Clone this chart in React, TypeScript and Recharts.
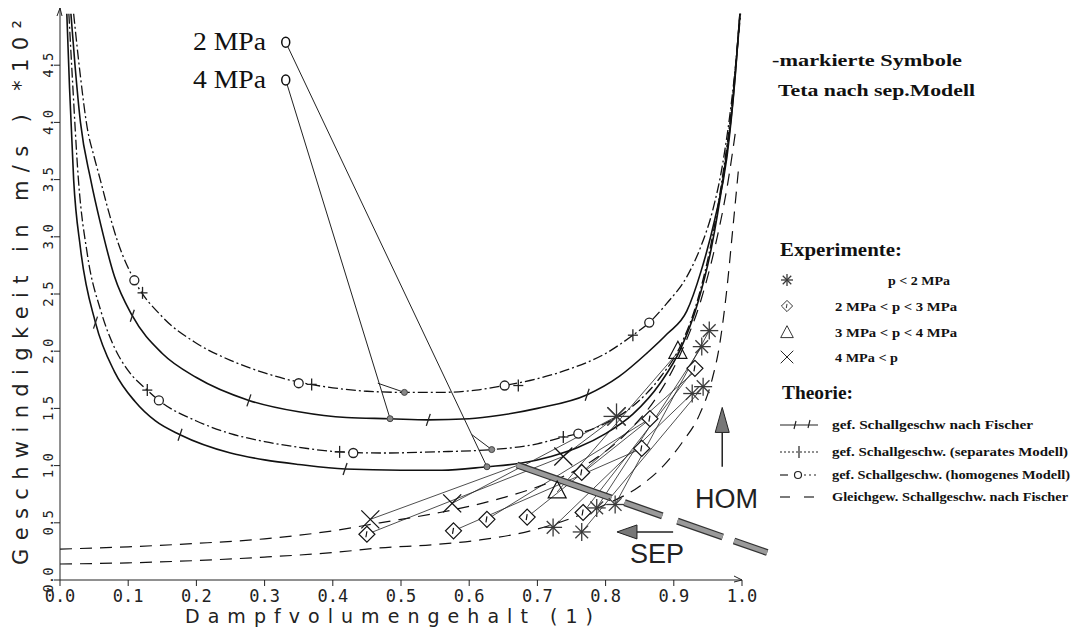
import React from "react";
import {
  ComposedChart,
  Line,
  Scatter,
  XAxis,
  YAxis,
  ReferenceLine,
  ReferenceDot,
} from "recharts";

const xTicks = [0, 0.1, 0.2, 0.3, 0.4, 0.5, 0.6, 0.7, 0.8, 0.9, 1.0];
const yTicks = [0, 0.5, 1.0, 1.5, 2.0, 2.5, 3.0, 3.5, 4.0, 4.5];

// theory curves (x = Dampfvolumengehalt, y = Geschwindigkeit *100 m/s)
const homHigh: [number, number][] = [
  [0.02, 4.95], [0.03, 4.4], [0.04, 3.95], [0.05, 3.7], [0.059, 3.5], [0.07, 3.25],
  [0.085, 2.95], [0.109, 2.62], [0.15, 2.3], [0.2, 2.07], [0.25, 1.92], [0.3, 1.81],
  [0.35, 1.73], [0.4, 1.68], [0.45, 1.65], [0.505, 1.64], [0.56, 1.64], [0.61, 1.66],
  [0.652, 1.7], [0.7, 1.76], [0.75, 1.85], [0.8, 1.98], [0.84, 2.14], [0.864, 2.25],
  [0.89, 2.42], [0.919, 2.65], [0.94, 2.92], [0.957, 3.23], [0.972, 3.65], [0.985, 4.2],
  [0.994, 4.7], [0.998, 4.95],
];
const fischerHigh: [number, number][] = [
  [0.016, 4.95], [0.022, 4.5], [0.03, 4.0], [0.045, 3.5], [0.06, 3.1], [0.08, 2.65],
  [0.106, 2.31], [0.15, 1.98], [0.2, 1.77], [0.277, 1.57], [0.35, 1.47], [0.42, 1.42],
  [0.484, 1.41], [0.54, 1.4], [0.6, 1.41], [0.645, 1.44], [0.7, 1.5], [0.773, 1.62],
  [0.82, 1.78], [0.86, 1.98], [0.89, 2.15], [0.919, 2.35], [0.94, 2.7], [0.96, 3.15],
  [0.978, 3.7], [0.99, 4.4], [0.997, 4.95],
];
const homLow: [number, number][] = [
  [0.013, 4.95], [0.018, 4.4], [0.027, 3.5], [0.04, 2.85], [0.06, 2.35], [0.08, 2.03],
  [0.1, 1.83], [0.128, 1.66], [0.145, 1.57], [0.2, 1.39], [0.25, 1.28], [0.3, 1.21],
  [0.35, 1.16], [0.41, 1.12], [0.47, 1.11], [0.55, 1.12], [0.633, 1.14], [0.7, 1.19],
  [0.738, 1.25], [0.76, 1.28], [0.8, 1.37], [0.84, 1.52], [0.88, 1.77], [0.91, 2.05],
  [0.935, 2.45], [0.955, 2.95], [0.972, 3.55], [0.986, 4.2], [0.997, 4.95],
];
const fischerLow: [number, number][] = [
  [0.01, 4.95], [0.014, 4.3], [0.02, 3.5], [0.03, 2.9], [0.052, 2.25], [0.08, 1.82],
  [0.11, 1.56], [0.14, 1.39], [0.176, 1.27], [0.25, 1.11], [0.3, 1.05], [0.35, 1.01],
  [0.418, 0.97], [0.5, 0.96], [0.56, 0.96], [0.626, 0.99], [0.675, 1.02], [0.72, 1.08],
  [0.76, 1.16], [0.8, 1.28], [0.84, 1.45], [0.88, 1.72], [0.91, 2.02], [0.935, 2.42],
  [0.955, 2.9], [0.972, 3.5], [0.986, 4.15], [0.997, 4.95],
];
const eqUpper: [number, number][] = [
  [0, 0.27], [0.1, 0.29], [0.2, 0.32], [0.3, 0.36], [0.4, 0.43], [0.469, 0.5],
  [0.557, 0.59], [0.65, 0.72], [0.72, 0.86], [0.78, 1.04], [0.83, 1.28], [0.875, 1.6],
  [0.91, 1.98], [0.94, 2.45], [0.96, 2.9], [0.98, 3.5], [0.99, 3.9],
];
const eqLower: [number, number][] = [
  [0, 0.14], [0.1, 0.15], [0.2, 0.17], [0.3, 0.2], [0.4, 0.24], [0.469, 0.28],
  [0.55, 0.31], [0.616, 0.35], [0.69, 0.43], [0.75, 0.54], [0.8, 0.66], [0.85, 0.82],
  [0.885, 1.0], [0.912, 1.2], [0.938, 1.45], [0.956, 1.75], [0.967, 2.05], [0.977, 2.5],
  [0.987, 3.1], [0.995, 3.6],
];

// marks sitting on the theory curves
const homCircles: [number, number][] = [
  [0.109, 2.62], [0.35, 1.72], [0.652, 1.7], [0.864, 2.25], [0.145, 1.57], [0.43, 1.11], [0.76, 1.28],
];
const sepCrosses: [number, number][] = [
  [0.121, 2.51], [0.369, 1.71], [0.672, 1.7], [0.84, 2.14], [0.128, 1.66], [0.41, 1.12], [0.738, 1.25],
];
const fischerTicks: [number, number][] = [
  [0.106, 2.31], [0.277, 1.57], [0.54, 1.4], [0.773, 1.62], [0.052, 2.25], [0.176, 1.27], [0.418, 0.97],
];
const tetaDots: [number, number][] = [[0.505, 1.64], [0.484, 1.41], [0.633, 1.14], [0.626, 0.99]];

// experiments
const starPts: [number, number][] = [
  [0.723, 0.46], [0.765, 0.42], [0.787, 0.63], [0.814, 0.66], [0.927, 1.63], [0.943, 1.69],
  [0.941, 2.04], [0.952, 2.18],
];
const bigStarPts: [number, number][] = [[0.816, 1.43]];
const diamondPts: [number, number][] = [
  [0.45, 0.4], [0.577, 0.43], [0.626, 0.53], [0.685, 0.55], [0.767, 0.59], [0.765, 0.94],
  [0.853, 1.15], [0.865, 1.41], [0.931, 1.85],
];
const trianglePts: [number, number][] = [[0.729, 0.77], [0.906, 1.99]];
const crossPts: [number, number][] = [[0.455, 0.53], [0.575, 0.67], [0.738, 1.08], [0.816, 1.43]];

// thin lines joining experiment and theory points
const links: [number, number, number, number][] = [
  [0.455, 0.53, 0.67, 1.0], [0.45, 0.4, 0.738, 1.08], [0.575, 0.67, 0.816, 1.43],
  [0.577, 0.43, 0.853, 1.15], [0.626, 0.53, 0.865, 1.41], [0.685, 0.55, 0.87, 1.43],
  [0.723, 0.46, 0.927, 1.63], [0.765, 0.42, 0.943, 1.69], [0.729, 0.77, 0.906, 1.99],
  [0.767, 0.59, 0.931, 1.85], [0.787, 0.63, 0.941, 2.04], [0.814, 0.66, 0.952, 2.18],
  [0.738, 1.08, 0.816, 1.43], [0.765, 0.94, 0.934, 1.84],
];
// "2 MPa o" / "4 MPa o" leader lines
const pressureLines: [number, number, number, number][] = [
  [0.331, 4.7, 0.626, 0.99], [0.604, 1.27, 0.633, 1.14],
  [0.331, 4.37, 0.484, 1.41], [0.466, 1.72, 0.505, 1.64],
];
const pressureOrigins: [number, number][] = [[0.331, 4.7], [0.331, 4.37]];
const sepBand: [number, number][] = [[0.67, 1.005], [1.037, 0.24]];
const homArrow: [number, number][] = [[0.971, 0.99], [0.971, 1.29]];
const sepArrow: [number, number][] = [[0.899, 0.42], [0.846, 0.42]];

const pts = (a: [number, number][]) => a.map(([x, y]) => ({ x, y }));

const Asterisk = (r: number) => (p: any) => (
  <g stroke="#3a3a3a" strokeWidth={1.3}>
    {[0, 45, 90, 135].map((a) => {
      const dx = r * Math.cos((a * Math.PI) / 180);
      const dy = r * Math.sin((a * Math.PI) / 180);
      return <line key={a} x1={p.cx - dx} y1={p.cy - dy} x2={p.cx + dx} y2={p.cy + dy} />;
    })}
  </g>
);
const Diamond = (p: any) => (
  <g stroke="#111" strokeWidth={1.2} fill="#fff">
    <polygon points={`${p.cx},${p.cy - 8} ${p.cx + 8},${p.cy} ${p.cx},${p.cy + 8} ${p.cx - 8},${p.cy}`} />
    <line x1={p.cx} y1={p.cy - 3} x2={p.cx - 1} y2={p.cy + 3} />
  </g>
);
const Triangle = (p: any) => (
  <polygon
    points={`${p.cx},${p.cy - 11} ${p.cx + 9},${p.cy + 6} ${p.cx - 9},${p.cy + 6}`}
    fill="none"
    stroke="#111"
    strokeWidth={1.2}
  />
);
const XMark = (p: any) => (
  <g stroke="#111" strokeWidth={1.3}>
    <line x1={p.cx - 9} y1={p.cy - 9} x2={p.cx + 9} y2={p.cy + 9} />
    <line x1={p.cx - 9} y1={p.cy + 9} x2={p.cx + 9} y2={p.cy - 9} />
  </g>
);
const Ring = (p: any) => <circle cx={p.cx} cy={p.cy} r={4.5} fill="#fff" stroke="#222" strokeWidth={1.3} />;
const Plus = (p: any) => (
  <g stroke="#222" strokeWidth={1.3}>
    <line x1={p.cx} y1={p.cy - 6} x2={p.cx} y2={p.cy + 6} />
    <line x1={p.cx - 5} y1={p.cy} x2={p.cx + 5} y2={p.cy} />
  </g>
);
const Tick = (p: any) => (
  <line x1={p.cx + 2} y1={p.cy - 6} x2={p.cx - 2} y2={p.cy + 6} stroke="#222" strokeWidth={1.3} />
);
const GreyDot = (p: any) => <circle cx={p.cx} cy={p.cy} r={3} fill="#888" stroke="#444" />;

const XTick = (p: any) => (
  <text x={p.x} y={594} textAnchor="middle" fontFamily="DejaVu Sans Mono" fontSize={17} fill="#222">
    {p.payload.value.toFixed(1)}
  </text>
);
const YTick = (p: any) => (
  <text
    x={45}
    y={p.y}
    transform={`rotate(-90 45 ${p.y})`}
    textAnchor="middle"
    fontFamily="DejaVu Sans Mono"
    fontSize={14}
    fill="#222"
  >
    {p.payload.value.toFixed(1)}
  </text>
);

const serif = "Liberation Serif";

// legend text: [text, x, baseline, font size, width]
const legendTexts: [string, number, number, number, number][] = [
  ["-markierte Symbole", 764, 58, 17, 190],
  ["Teta nach sep.Modell", 770, 88, 17, 197],
  ["Experimente:", 772, 248, 19, 122],
  ["p < 2 MPa", 880, 277, 13, 62],
  ["2 MPa < p < 3 MPa", 827, 303, 13, 122],
  ["3 MPa < p < 4 MPa", 827, 329, 13, 122],
  ["4 MPa < p", 827, 354, 13, 63],
  ["Theorie:", 774, 391, 19, 71],
  ["gef. Schallgeschw nach Fischer", 824, 421, 13.5, 201],
  ["gef. Schallgeschw. (separates Modell)", 824, 448, 13.5, 236],
  ["gef. Schallgeschw. (homogenes Modell)", 824, 471, 13.5, 238],
  ["Gleichgew. Schallgeschw. nach Fischer", 824, 493, 13.5, 236],
];

export default function App() {
  const curveLine = (d: [number, number][], dash?: string, w = 1.5) => (
    <Line
      data={pts(d)}
      dataKey="y"
      type="monotone"
      stroke="#111"
      strokeWidth={w}
      strokeDasharray={dash}
      dot={false}
      isAnimationActive={false}
    />
  );
  const seg = (s: [number, number][]) => s.map(([x, y]) => ({ x, y }));
  return (
    <div style={{ position: "relative", width: 1074, height: 626 }}>
      <ComposedChart width={1074} height={626} margin={{ top: 0, right: 340, bottom: 0, left: 0 }}>
        <XAxis
          type="number"
          dataKey="x"
          domain={[0, 1]}
          allowDataOverflow
          ticks={xTicks}
          tick={XTick}
          height={54}
          stroke="#222"
          label={{
            content: () => (
              <text x={177} y={615} fontFamily="DejaVu Sans" fontSize={19} fill="#222" textLength={408} lengthAdjust="spacing">
                Dampfvolumengehalt (1)
              </text>
            ),
          }}
        />
        <YAxis
          type="number"
          dataKey="y"
          domain={[0, 5]}
          allowDataOverflow
          ticks={yTicks}
          tick={YTick}
          width={52}
          stroke="#222"
          label={{
            content: () => (
              <text
                x={0}
                y={0}
                transform="translate(20 557) rotate(-90)"
                fontFamily="DejaVu Sans"
                fontSize={21}
                fill="#222"
                textLength={545}
                lengthAdjust="spacing"
              >
                Geschwindigkeit in m/s ) *10²
              </text>
            ),
          }}
        />

        {curveLine(eqUpper, "12 8", 1.2)}
        {curveLine(eqLower, "12 8", 1.2)}
        {curveLine(homHigh, "10 3 2 3", 1.3)}
        {curveLine(homLow, "10 3 2 3", 1.3)}
        {curveLine(fischerHigh, undefined, 1.6)}
        {curveLine(fischerLow, undefined, 1.6)}

        {links.map(([x1, y1, x2, y2], i) => (
          <ReferenceLine key={"l" + i} segment={[{ x: x1, y: y1 }, { x: x2, y: y2 }]} stroke="#222" strokeWidth={0.8} />
        ))}
        {pressureLines.map(([x1, y1, x2, y2], i) => (
          <ReferenceLine key={"p" + i} segment={[{ x: x1, y: y1 }, { x: x2, y: y2 }]} stroke="#222" strokeWidth={1} />
        ))}
        <ReferenceLine segment={seg(sepBand)} ifOverflow="visible" stroke="#333" strokeWidth={7} strokeDasharray="100 14 40 16 48 12 40" />
        <ReferenceLine segment={seg(sepBand)} ifOverflow="visible" stroke="#9a9a9a" strokeWidth={4.5} strokeDasharray="100 14 40 16 48 12 40" />
        <ReferenceLine segment={seg(homArrow)} ifOverflow="visible" stroke="#222" strokeWidth={1.5} />
        <ReferenceLine segment={seg(sepArrow)} ifOverflow="visible" stroke="#222" strokeWidth={1.5} />
        <ReferenceDot
          x={homArrow[1][0]}
          y={homArrow[1][1]}
          ifOverflow="visible"
          shape={(p: any) => (
            <polygon points={`${p.cx},${p.cy - 25} ${p.cx + 7},${p.cy} ${p.cx - 7},${p.cy}`} fill="#777" stroke="#222" />
          )}
        />
        <ReferenceDot
          x={sepArrow[1][0]}
          y={sepArrow[1][1]}
          ifOverflow="visible"
          shape={(p: any) => (
            <polygon points={`${p.cx - 20},${p.cy} ${p.cx},${p.cy - 7} ${p.cx},${p.cy + 7}`} fill="#777" stroke="#222" />
          )}
        />
        {pressureOrigins.map(([x, y], i) => (
          <ReferenceDot
            key={"o" + i}
            x={x}
            y={y}
            ifOverflow="visible"
            shape={(p: any) => <ellipse cx={p.cx} cy={p.cy} rx={4} ry={5} fill="#fff" stroke="#111" strokeWidth={1.5} />}
          />
        ))}
        <ReferenceDot
          x={1}
          y={0}
          ifOverflow="visible"
          shape={(p: any) => <path d={`M${p.cx - 8},${p.cy - 4} L${p.cx},${p.cy} L${p.cx - 8},${p.cy + 2}`} fill="none" stroke="#222" />}
        />
        <ReferenceDot
          x={0}
          y={5}
          ifOverflow="visible"
          shape={(p: any) => <path d={`M${p.cx - 3},${p.cy + 8} L${p.cx},${p.cy} L${p.cx + 2},${p.cy + 8}`} fill="none" stroke="#222" />}
        />

        <Scatter data={pts(homCircles)} shape={Ring} isAnimationActive={false} />
        <Scatter data={pts(sepCrosses)} shape={Plus} isAnimationActive={false} />
        <Scatter data={pts(fischerTicks)} shape={Tick} isAnimationActive={false} />
        <Scatter data={pts(tetaDots)} shape={GreyDot} isAnimationActive={false} />
        <Scatter data={pts(diamondPts)} shape={Diamond} isAnimationActive={false} />
        <Scatter data={pts(trianglePts)} shape={Triangle} isAnimationActive={false} />
        <Scatter data={pts(crossPts)} shape={XMark} isAnimationActive={false} />
        <Scatter data={pts(starPts)} shape={Asterisk(9)} isAnimationActive={false} />
        <Scatter data={pts(bigStarPts)} shape={Asterisk(13)} isAnimationActive={false} />
      </ComposedChart>

      <svg width={1074} height={626} style={{ position: "absolute", left: 0, top: 0, pointerEvents: "none" }}>
        <g fontFamily={serif} fill="#111">
          <text x={185} y={42} fontSize={25} textLength={73} lengthAdjust="spacingAndGlyphs">2 MPa</text>
          <text x={185} y={80} fontSize={25} textLength={73} lengthAdjust="spacingAndGlyphs">4 MPa</text>
          <g fontWeight="bold">
            {legendTexts.map(([t, x, y, fs, w]) => (
              <text key={t} x={x} y={y} fontSize={fs} textLength={w} lengthAdjust="spacingAndGlyphs">
                {t}
              </text>
            ))}
          </g>
        </g>
        {Asterisk(6)({ cx: 779, cy: 272 })}
        <g transform="translate(779 298) scale(0.7)">{Diamond({ cx: 0, cy: 0 })}</g>
        <g transform="translate(779 324) scale(0.7)">{Triangle({ cx: 0, cy: 2 })}</g>
        <g transform="translate(779 349) scale(0.7)">{XMark({ cx: 0, cy: 0 })}</g>
        <g stroke="#222" strokeWidth={1.2} fill="none">
          <line x1={772} y1={417} x2={810} y2={417} />
          <line x1={788} y1={413} x2={786} y2={421} />
          <line x1={802} y1={412} x2={800} y2={420} />
          <line x1={772} y1={444} x2={810} y2={444} strokeDasharray="2 2" />
          <line x1={791} y1={438} x2={791} y2={450} />
          <line x1={772} y1={467} x2={780} y2={467} />
          <circle cx={790} cy={467} r={3.5} />
          <line x1={796} y1={467} x2={810} y2={467} strokeDasharray="2 3" />
          <line x1={772} y1={489} x2={782} y2={489} />
          <line x1={796} y1={489} x2={806} y2={489} />
        </g>
        <g fontFamily="Liberation Sans" fill="#222">
          <text x={687} y={500} fontSize={27}>HOM</text>
          <text x={622} y={555} fontSize={27}>SEP</text>
        </g>
      </svg>
    </div>
  );
}
